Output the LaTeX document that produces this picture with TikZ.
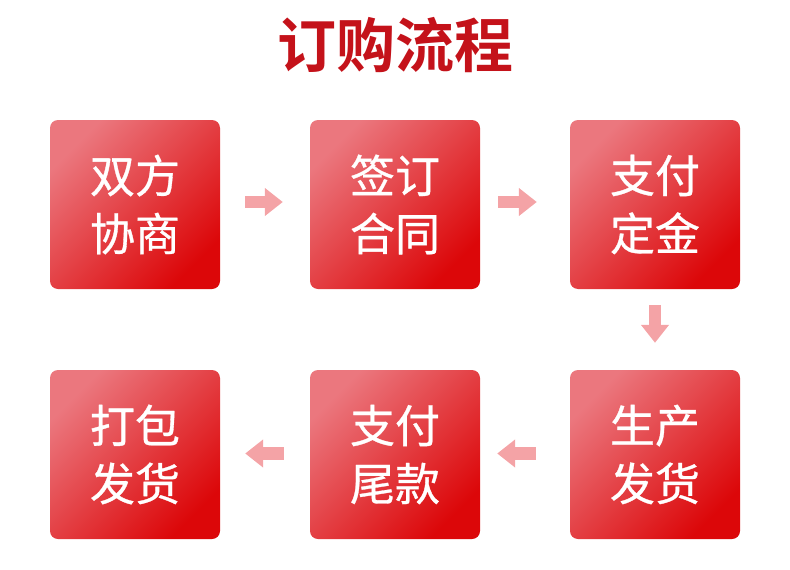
\documentclass[tikz,border=0pt]{standalone}
\usepackage{fontspec}
\newfontfamily\cjk[FakeBold=0.7]{Noto Sans CJK SC}
\newfontfamily\cjkb{Noto Sans CJK SC Bold}
\usetikzlibrary{arrows.meta}
\definecolor{titlered}{HTML}{C4121A}
\definecolor{boxlight}{HTML}{EB777E}
\definecolor{boxdark}{HTML}{DC0709}
\definecolor{arrowpink}{HTML}{F4A3A6}
\begin{document}
\begin{tikzpicture}[x=1pt,y=-1pt,
  stepbox/.style={minimum width=170pt, minimum height=169pt, rounded corners=8pt,
    left color=boxlight, right color=boxdark, shading angle=45, text=white,
    font=\cjk\fontsize{45}{58}\selectfont, align=center, inner sep=0pt},
  flowarrow/.style={draw=arrowpink, line width=12.5pt,
    -{Triangle[width=27pt,length=18pt,fill=arrowpink,color=arrowpink]}},
  titletext/.style={text=titlered, font=\cjkb\fontsize{59}{60}\selectfont, inner sep=0pt}]
\useasboundingbox (0,0) rectangle (790,570);
\node[titletext] (title) at (395,45) {订购流程};
\node[stepbox] (b1) at (135,204.5) {双方\\协商};
\node[stepbox] (b2) at (395,204.5) {签订\\合同};
\node[stepbox] (b3) at (655,204.5) {支付\\定金};
\node[stepbox] (b4) at (655,454.5) {生产\\发货};
\node[stepbox] (b5) at (395,454.5) {支付\\尾款};
\node[stepbox] (b6) at (135,454.5) {打包\\发货};
\draw[flowarrow] ([shift={(25pt,2.5pt)}]b1.east) -- ([shift={(-27pt,2.5pt)}]b2.west);
\draw[flowarrow] ([shift={(18pt,2.5pt)}]b2.east) -- ([shift={(-33pt,2.5pt)}]b3.west);
\draw[flowarrow] ([yshift=-16pt]b3.south) -- ([yshift=27pt]b4.north);
\draw[flowarrow] ([shift={(-34pt,1pt)}]b4.west) -- ([shift={(17pt,1pt)}]b5.east);
\draw[flowarrow] ([shift={(-26pt,1pt)}]b5.west) -- ([shift={(25pt,1pt)}]b6.east);
\end{tikzpicture}
\end{document}
